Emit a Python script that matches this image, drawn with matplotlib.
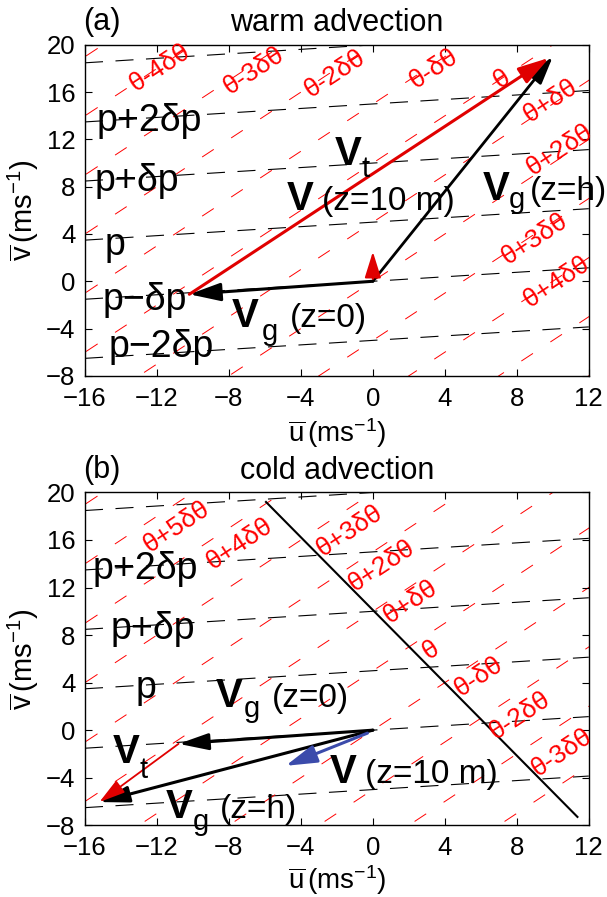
import numpy as np
import matplotlib.pyplot as plt

plt.rcParams['font.family'] = ['Liberation Sans', 'DejaVu Sans']
plt.rcParams['mathtext.fontset'] = 'custom'
plt.rcParams['mathtext.rm'] = 'Liberation Sans'
plt.rcParams['mathtext.it'] = 'Liberation Sans:italic'
plt.rcParams['mathtext.bf'] = 'Liberation Sans:bold'
plt.rcParams['lines.scale_dashes'] = False

# axes ranges / ticks
xlim = (-16, 12)
ylim = (-8, 20)
xticks = [-16, -12, -8, -4, 0, 4, 8, 12]
yticks = [-8, -4, 0, 4, 8, 12, 16, 20]

# isobars: v = slope*u + offset
isobar_slope = 0.095
isobar_offsets = [-5, 0, 5, 10, 15, 20]
# isentropes: v = u + offset
isentrope_offsets = [-20, -15, -10, -5, 0, 5, 10, 15, 20, 25, 30, 35]

# pressure labels (text, u, v)
p_text_a = ['p+2δp', 'p+δp', 'p', 'p−δp', 'p−2δp']
p_u_a = [-15.35, -15.45, -14.9, -15.0, -14.7]
p_v_a = [13.6, 8.45, 3.1, -1.55, -5.6]
p_text_b = ['p+2δp', 'p+δp', 'p']
p_u_b = [-15.55, -14.6, -13.2]
p_v_b = [13.6, 8.55, 3.55]

# theta labels
th_text_a = ['θ-4δθ', 'θ-3δθ', 'θ-2δθ', 'θ-δθ', 'θ', 'θ+δθ', 'θ+2δθ', 'θ+3δθ', 'θ+4δθ']
th_u_a = [-11.85, -6.6, -2.1, 3.4, 7.15, 9.9, 10.4, 9.0, 10.2]
th_v_a = [18.1, 17.8, 17.55, 18.0, 17.1, 15.3, 11.1, 3.6, -0.05]
th_text_b = ['θ+5δθ', 'θ+4δθ', 'θ+3δθ', 'θ+2δθ', 'θ+δθ', 'θ', 'θ-δθ', 'θ-2δθ', 'θ-3δθ']
th_u_b = [-10.9, -7.4, -1.3, 0.5, 2.1, 3.2, 5.9, 8.15, 10.5]
th_v_b = [17.1, 15.7, 16.8, 13.8, 10.8, 6.7, 4.5, 1.25, -1.9]

# vectors (warm advection)
vg0_a = (-10.2, -1.1)
vgh_a = (10.0, 19.0)
v10_a = (0.0, 2.5)
# vectors (cold advection)
vg0_b = (-10.8, -1.15)
vgh_b = (-15.2, -6.05)
v10_b = (-4.85, -3.0)
# solid line in (b)
line_u = [-5.94, 11.37]
line_v = [19.2, -7.3]

fig = plt.figure(figsize=(6.07, 8.97), dpi=100)
ax_a = fig.add_axes([0.140, 0.581, 0.830, 0.369])
ax_b = fig.add_axes([0.140, 0.080, 0.830, 0.371])


def arrow(ax, start, end, color, lw, hl=20, hw=8):
    ax.annotate('', xy=end, xytext=start,
                arrowprops=dict(arrowstyle='-|>,head_length=%g,head_width=%g' % (hl / 10.0, hw / 20.0),
                                mutation_scale=10, color=color, lw=lw,
                                shrinkA=0, shrinkB=0), zorder=5)


def vec_label(ax, u, v, sub, sub_du, sub_dv, rest=None, rest_du=None):
    ax.text(u, v, 'V', fontsize=29, fontweight='bold', ha='left', va='baseline', zorder=6)
    if sub:
        ax.text(u + sub_du, v + sub_dv, sub, fontsize=21, ha='left', va='baseline', zorder=6)
    if rest:
        ax.text(u + rest_du, v, rest, fontsize=24, ha='left', va='baseline', zorder=6)


def base(ax, title, tag, p_text, p_u, p_v, th_text, th_u, th_v, xlab_y):
    xs = np.array(xlim, dtype=float)
    for b in isobar_offsets:
        ax.plot(xs, isobar_slope * xs + b, color='k', lw=0.8, dashes=(13, 9), zorder=1)
    xs2 = np.array([-40, 40], dtype=float)
    for c in isentrope_offsets:
        ax.plot(xs2, xs2 + c, color='red', lw=0.7, dashes=(10, 15), zorder=1)
    for t, u, v in zip(p_text, p_u, p_v):
        ax.text(u, v, t, fontsize=27, ha='left', va='center', zorder=4)
    for t, u, v in zip(th_text, th_u, th_v):
        ax.text(u, v, t, fontsize=19, color='red', ha='center', va='center',
                rotation=45, transform_rotates_text=True, rotation_mode='anchor', zorder=4)
    ax.set_xlim(xlim)
    ax.set_ylim(ylim)
    ax.set_xticks(xticks)
    ax.set_yticks(yticks)
    ax.tick_params(direction='in', top=True, right=True, length=5, width=0.8, labelsize=18.5)
    ax.tick_params(axis='x', pad=8)
    ax.tick_params(axis='y', pad=7)
    for s in ax.spines.values():
        s.set_linewidth(1.0)
    ax.set_title(title, fontsize=22, pad=10)
    ax.text(-0.004, 1.044, tag, transform=ax.transAxes, fontsize=22, ha='left', va='baseline')
    ax.set_xlabel(r'$\overline{\mathrm{u}}\,$(ms$^{-1}$)', fontsize=20)
    ax.set_ylabel(r'$\overline{\mathrm{v}}\,$(ms$^{-1}$)', fontsize=21)
    ax.xaxis.set_label_coords(0.5, xlab_y)
    ax.yaxis.set_label_coords(-0.088, 0.5)


base(ax_a, 'warm advection', '(a)', p_text_a, p_u_a, p_v_a, th_text_a, th_u_a, th_v_a, -0.122)
base(ax_b, 'cold advection', '(b)', p_text_b, p_u_b, p_v_b, th_text_b, th_u_b, th_v_b, -0.114)

# (a) vectors
arrow(ax_a, (0, 0), vg0_a, 'k', 2.2, hl=19, hw=11)
arrow(ax_a, (0, 0), vgh_a, 'k', 2.0, hl=17, hw=10)
arrow(ax_a, vg0_a, (vgh_a[0] - 0.2, vgh_a[1] - 0.1), '#e00000', 2.2, hl=19, hw=11)
arrow(ax_a, (0, 0.2), v10_a, '#e00000', 1.5, hl=16, hw=10)
vec_label(ax_a, -2.13, 9.8, 't', 1.5, -1.0)
vec_label(ax_a, -4.8, 6.0, None, 0, 0, '(z=10 m)', 1.95)
vec_label(ax_a, 6.1, 6.85, 'g', 1.45, -0.65, '(z=h)', 2.6)
vec_label(ax_a, -7.87, -3.9, 'g', 1.7, -1.1, '(z=0)', 3.25)

# (b) vectors
ax_b.plot(line_u, line_v, color='k', lw=1.5, zorder=3)
arrow(ax_b, (0, 0), vg0_b, 'k', 2.2, hl=18, hw=10)
arrow(ax_b, (0, 0), vgh_b, 'k', 2.2, hl=18, hw=10)
arrow(ax_b, vg0_b, vgh_b, '#e00000', 1.3, hl=16, hw=9)
arrow(ax_b, (-0.3, -0.25), v10_b, '#3b4bab', 2.2, hl=19, hw=11)
vec_label(ax_b, -8.74, 1.93, 'g', 1.55, -0.8, '(z=0)', 3.1)
vec_label(ax_b, -14.45, -2.8, 't', 1.5, -1.25)
vec_label(ax_b, -2.4, -4.45, None, 0, 0, '(z=10 m)', 1.95)
vec_label(ax_b, -11.52, -7.42, 'g', 1.5, -0.95, '(z=h)', 3.0)

fig.savefig('out.png', dpi=100)
